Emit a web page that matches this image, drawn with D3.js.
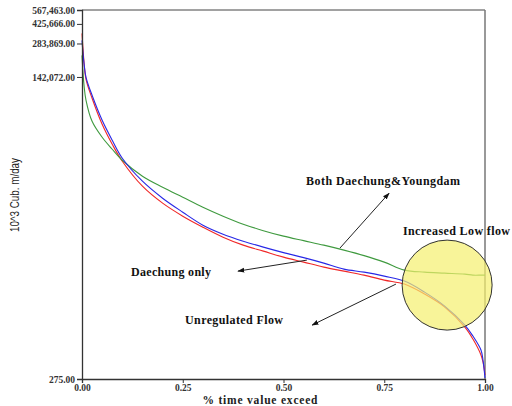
<!DOCTYPE html>
<html><head><meta charset="utf-8">
<script src="https://cdn.jsdelivr.net/npm/d3@7"></script>
<style>html,body{margin:0;padding:0;background:#fff;}svg{display:block;}</style>
</head><body>
<svg id="chart" width="512" height="406"></svg>
<script>
// ---- data ----
const xVals = [0, 0.005, 0.01, 0.025, 0.05, 0.075, 0.1, 0.15, 0.2, 0.25, 0.3, 0.35, 0.4, 0.45, 0.5, 0.55, 0.6, 0.65, 0.7, 0.75, 0.8, 0.85, 0.9, 0.95, 0.97, 0.99, 0.995, 1.0];
const unregulated = [349700, 192200, 135300, 91360, 53390, 35320, 24860, 14830, 10440, 7980, 6357, 5170, 4383, 3872, 3420, 3085, 2782, 2561, 2358, 2127, 1958, 1592, 1217, 805, 628, 452, 391, 299];
const daechungOnly = [302800, 188300, 141000, 97200, 57980, 38360, 26450, 16440, 11570, 8666, 6625, 5500, 4760, 4205, 3753, 3385, 3022, 2669, 2509, 2310, 2083, 1659, 1243, 839, 669, 501, 407, 281];
const bothDams = [222100, 119500, 87670, 56800, 40810, 31850, 25380, 18230, 14520, 11810, 9610, 7980, 6764, 5914, 5278, 4809, 4383, 3953, 3528, 3085, 2615, 2509, 2457, 2407, 2358, 2358, 2358, 2358];
const xTicks = [0, 0.25, 0.5, 0.75, 1.0];
const yTicks = [275, 142072, 283869, 425666, 567463];
const xTitle = "% time value exceed";
const yTitle = "10^3 Cub. m/day";
// annotations (data units)
const labels = [
  {text: "Both Daechung&Youngdam", x: 0.556, v: 15140, w: 154},
  {text: "Increased Low flow", x: 0.7965, v: 5388, w: 107},
  {text: "Daechung only", x: 0.1216, v: 2310, w: 80},
  {text: "Unregulated Flow", x: 0.2556, v: 857, w: 98}
];
const arrows = [
  {x1: 0.640, v1: 4120, x2: 0.762, v2: 12840},
  {x1: 0.558, v1: 3215, x2: 0.387, v2: 2561},
  {x1: 0.779, v1: 1958, x2: 0.571, v2: 839}
];
const highlight = {x: 0.906, v: 1918};

// ---- layout ----
const L = 82, R = 485, T = 10, B = 379;
const svg = d3.select("#chart");
const x = d3.scaleLinear().domain([0, 1]).range([L, R]);
const y = d3.scaleLog().domain([275, 567463]).range([B, T]);

svg.append("defs").append("marker")
  .attr("id", "ah").attr("viewBox", "0 0 10 10").attr("refX", 9).attr("refY", 5)
  .attr("markerWidth", 7).attr("markerHeight", 7).attr("orient", "auto")
  .append("path").attr("d", "M0,1.5L10,5L0,8.5Z").attr("fill", "#111");

// frame
svg.append("line").attr("x1", L).attr("x2", R).attr("y1", T).attr("y2", T).attr("stroke", "#444").attr("stroke-width", 1);
svg.append("line").attr("x1", R).attr("x2", R).attr("y1", T).attr("y2", B).attr("stroke", "#777").attr("stroke-width", 1.5);

const series = [
  {vals: unregulated, color: "#f02828"},
  {vals: bothDams, color: "#3f9a3f"},
  {vals: daechungOnly, color: "#2828e6"}
];
const line = d3.line().x(d => x(d[0])).y(d => y(d[1])).curve(d3.curveCatmullRom.alpha(0.5));
series.forEach(s => {
  svg.append("path").datum(xVals.map((xv, i) => [xv, s.vals[i]]))
    .attr("d", line).attr("fill", "none").attr("stroke", s.color).attr("stroke-width", 1.1);
});

// highlight circle
svg.append("circle").attr("cx", x(highlight.x)).attr("cy", y(highlight.v)).attr("r", 45)
  .attr("fill", "#f5ef6e").attr("fill-opacity", 0.7).attr("stroke", "#333").attr("stroke-width", 1);

// axes
const ax = svg.append("g").attr("transform", `translate(0,${B})`)
  .call(d3.axisBottom(x).tickValues(xTicks).tickFormat(d3.format(".2f")).tickSize(4).tickPadding(1));
const ay = svg.append("g").attr("transform", `translate(${L},0)`)
  .call(d3.axisLeft(y).tickValues(yTicks).tickFormat(d3.format(",.2f")).tickSize(5).tickPadding(2));
[ax, ay].forEach(g => {
  g.select(".domain").attr("stroke", "#333").attr("stroke-width", 1.3);
  g.selectAll(".tick line").attr("stroke", "#333");
  g.selectAll("text").attr("font-family", "Liberation Serif").attr("font-size", 9.5)
    .attr("font-weight", "bold").attr("fill", "#333");
});

svg.append("text").attr("x", 260).attr("y", 404).attr("text-anchor", "middle")
  .attr("font-family", "Liberation Serif").attr("font-weight", "bold").attr("font-size", 11.5)
  .attr("textLength", 115).attr("lengthAdjust", "spacing")
  .attr("fill", "#222").text(xTitle);
svg.append("text").attr("transform", "translate(19,195) rotate(-90)").attr("text-anchor", "middle")
  .attr("font-family", "Liberation Sans Narrow, Liberation Sans").attr("font-size", 12.5)
  .attr("textLength", 74).attr("lengthAdjust", "spacingAndGlyphs")
  .attr("fill", "#222").text(yTitle);

// arrows
arrows.forEach(a => {
  svg.append("line").attr("x1", x(a.x1)).attr("y1", y(a.v1)).attr("x2", x(a.x2)).attr("y2", y(a.v2))
    .attr("stroke", "#222").attr("stroke-width", 1).attr("marker-end", "url(#ah)");
});
// labels
labels.forEach(l => {
  svg.append("text").attr("x", x(l.x)).attr("y", y(l.v))
    .attr("font-family", "Liberation Serif").attr("font-weight", "bold").attr("font-size", 12)
    .attr("fill", "#111").attr("textLength", l.w).attr("lengthAdjust", "spacing").text(l.text);
});
</script>
</body></html>
